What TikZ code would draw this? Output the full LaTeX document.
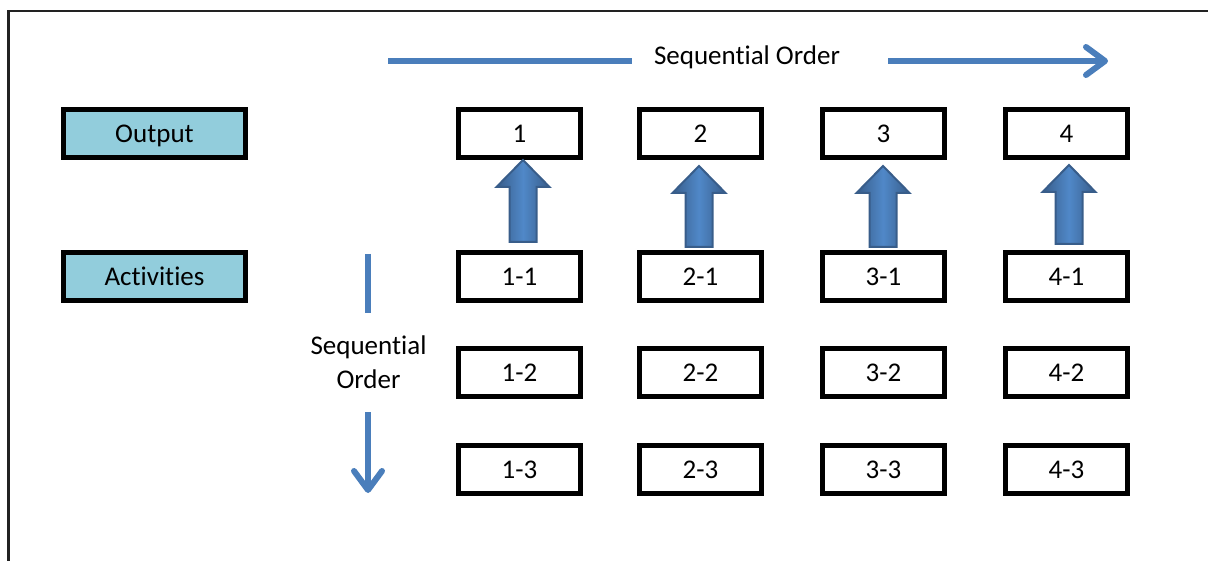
\documentclass[tikz,border=0pt]{standalone}
\usepackage{fontspec}
\setmainfont[Ligatures={NoCommon,NoContextual}]{Carlito}
\usetikzlibrary{arrows.meta}
\definecolor{boxblue}{HTML}{92CDDC}
\definecolor{linblue}{HTML}{4A7EBB}
\definecolor{arrdark}{HTML}{385D8A}
\definecolor{arrmid}{HTML}{5088C8}
\definecolor{framegray}{HTML}{222222}
\newcommand\uparr[3]{%
  \path[blockarrow] (#1-13.5,#3) -- (#1-13.5,#2+27) -- (#1-26.5,#2+27) -- (#1,#2)
    -- (#1+26.5,#2+27) -- (#1+13.5,#2+27) -- (#1+13.5,#3) -- cycle;}
\begin{document}
\begin{tikzpicture}[x=1pt,y=-1pt,
  lbl/.style={font=\fontsize{27}{34}\selectfont, inner sep=0pt},
  capc/.style={lbl, text height=17.4pt, text depth=0pt},
  numbox/.style={capc, draw=black, line width=5pt, minimum width=122pt, minimum height=48pt},
  headbox/.style={numbox, fill=boxblue, minimum width=182pt},
  seqline/.style={draw=linblue, line width=6pt},
  seqarrow/.style={seqline, -{Straight Barb[length=19pt, width=28pt, round]}},
  blockarrow/.style={draw=arrdark, line width=2pt, left color=arrdark, right color=arrdark, middle color=arrmid}]
\useasboundingbox (0,0) rectangle (1208,561);
\fill[white] (0,0) rectangle (1208,561);
% frame
\coordinate (fa) at (8.5,561);
\coordinate (fb) at (8.5,11);
\coordinate (fc) at (1208,11);
\draw[framegray, line width=2.2pt] (fa) -- (fb) -- (fc);

% header boxes
\node[headbox] (out) at (154.5,133.5) {Output};
\node[headbox] (act) at (154.5,277) {Activities};

% grid boxes
\foreach \c/\x in {1/519.5,2/700.5,3/883.5,4/1066.5}{
  \node[numbox] (o\c) at (\x,133.5) {\c};
  \node[numbox] (a\c1) at (\x,277) {\c-1};
  \node[numbox] (a\c2) at (\x,372.5) {\c-2};
  \node[numbox] (a\c3) at (\x,469.5) {\c-3};
}

% block arrows
\uparr{523}{160}{242}
\uparr{699}{166}{247}
\uparr{883}{166}{247}
\uparr{1069}{165}{244}

% horizontal sequential order
\node[capc] (hseq) at (747,56) {Sequential Order};
\coordinate (h1) at (388,61);
\coordinate (h2) at (632,61);
\coordinate (h3) at (888,61);
\coordinate (h4) at (1108,61);
\draw[seqline] (h1) -- (h2);
\draw[seqarrow] (h3) -- (h4);

% vertical sequential order
\node[lbl, align=center] (vseq) at (368.5,362.7) {Sequential\\Order};
\coordinate (v1) at (368,254);
\coordinate (v2) at (368,313);
\coordinate (v3) at (368,412);
\coordinate (v4) at (368,493);
\draw[seqline] (v1) -- (v2);
\draw[seqarrow] (v3) -- (v4);
\end{tikzpicture}
\end{document}
